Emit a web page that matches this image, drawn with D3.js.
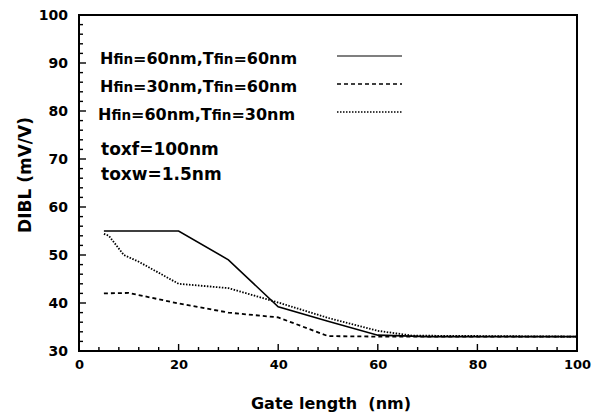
<!DOCTYPE html>
<html>
<head>
<meta charset="utf-8">
<script src="https://cdn.jsdelivr.net/npm/d3@7"></script>
<style>
  body { margin: 0; background: #fff; }
  svg { display: block; font-family: "DejaVu Sans", sans-serif; font-weight: bold; }
</style>
</head>
<body>
<svg id="chart"></svg>
<script>
// 数据
const solidX = [5, 20, 30, 40, 50, 60, 70, 100];
const solidY = [55, 55, 49, 39.2, 36.2, 33.3, 33, 33];
const dashX = [5, 10, 20, 30, 40, 50, 60, 100];
const dashY = [42, 42.1, 39.9, 38, 37, 33.1, 33, 33];
const dotX = [5, 6, 9, 12, 20, 30, 40, 50, 60, 67, 100];
const dotY = [54.4, 54, 50, 48.6, 44, 43.1, 40.1, 36.9, 34.2, 33.2, 33];
const seriesNames = [
  ['H', 'fin', '=60nm,T', 'fin', '=60nm'],
  ['H', 'fin', '=30nm,T', 'fin', '=60nm'],
  ['H', 'fin', '=60nm,T', 'fin', '=30nm']
];
const xTicks = [0, 20, 40, 60, 80, 100];
const yTicks = [30, 40, 50, 60, 70, 80, 90, 100];

const width = 592, height = 419;
const margin = { top: 15, right: 15, bottom: 68, left: 79 };
const innerWidth = width - margin.left - margin.right;
const innerHeight = height - margin.top - margin.bottom;
const font = 'DejaVu Sans, sans-serif';

const svg = d3.select('#chart')
  .attr('width', width)
  .attr('height', height)
  .append('g')
  .attr('transform', `translate(${margin.left},${margin.top})`);

const x = d3.scaleLinear().domain([0, 100]).range([0, innerWidth]);
const y = d3.scaleLinear().domain([30, 100]).range([innerHeight, 0]);

// 边框
svg.append('rect')
  .attr('width', innerWidth)
  .attr('height', innerHeight)
  .attr('fill', 'none')
  .attr('stroke', '#000')
  .attr('stroke-width', 2);

// 刻度线（向内）
const xMinor = d3.range(0, 101, 4);
const yMinor = d3.range(30, 101, 2);
svg.append('g').selectAll('line')
  .data(xMinor)
  .join('line')
  .attr('x1', d => x(d)).attr('x2', d => x(d))
  .attr('y1', innerHeight)
  .attr('y2', d => innerHeight - (d % 20 === 0 ? 7 : 4))
  .attr('stroke', '#000')
  .attr('stroke-width', 1.4);
svg.append('g').selectAll('line')
  .data(yMinor)
  .join('line')
  .attr('y1', d => y(d)).attr('y2', d => y(d))
  .attr('x1', 0)
  .attr('x2', d => (d % 10 === 0 ? 7 : 4))
  .attr('stroke', '#000')
  .attr('stroke-width', 1.4);

// 刻度标签
svg.append('g')
  .attr('transform', `translate(0,${innerHeight})`)
  .call(d3.axisBottom(x).tickValues(xTicks).tickSize(0).tickPadding(9))
  .call(g => g.select('.domain').remove())
  .call(g => g.selectAll('text').attr('font-size', 13).attr('font-weight', 'bold').attr('font-family', font));
svg.append('g')
  .call(d3.axisLeft(y).tickValues(yTicks).tickSize(0).tickPadding(11))
  .call(g => g.select('.domain').remove())
  .call(g => g.selectAll('text').attr('font-size', 14).attr('font-weight', 'bold').attr('font-family', font));

// 曲线
const line = d3.line().x(d => x(d[0])).y(d => y(d[1]));
const styles = [
  { xs: solidX, ys: solidY, dash: null, w: 1.6 },
  { xs: dashX, ys: dashY, dash: '4,3', w: 1.8 },
  { xs: dotX, ys: dotY, dash: '1.5,1.5', w: 1.8 }
];
styles.forEach(s => {
  svg.append('path')
    .datum(s.xs.map((v, i) => [v, s.ys[i]]))
    .attr('d', line)
    .attr('fill', 'none')
    .attr('stroke', '#000')
    .attr('stroke-width', s.w)
    .attr('stroke-dasharray', s.dash);
});

// 图例
styles.forEach((s, i) => {
  const yy = 41 + i * 28;
  const t = svg.append('text')
    .attr('x', 21 - (i === 2 ? 2 : 0))
    .attr('y', yy + 8)
    .attr('font-size', 16);
  seriesNames[i].forEach((part, j) => {
    t.append('tspan')
      .attr('font-size', j % 2 === 1 ? 13.5 : 16)
      .text(part);
  });
  svg.append('line')
    .attr('x1', 258).attr('x2', 323)
    .attr('y1', yy).attr('y2', yy)
    .attr('stroke', '#000')
    .attr('stroke-width', s.w - 0.4)
    .attr('stroke-dasharray', s.dash);
});

svg.append('text').attr('x', 22).attr('y', 140).attr('font-size', 17).text('toxf=100nm');
svg.append('text').attr('x', 22).attr('y', 165).attr('font-size', 17).text('toxw=1.5nm');

// 坐标轴标题
svg.append('text')
  .attr('x', 252)
  .attr('y', innerHeight + 58)
  .attr('text-anchor', 'middle')
  .attr('font-size', 16)
  .attr('xml:space', 'preserve')
  .text('Gate length  (nm)');

svg.append('text')
  .attr('transform', 'rotate(-90)')
  .attr('x', -160)
  .attr('y', -48)
  .attr('text-anchor', 'middle')
  .attr('font-size', 17)
  .text('DIBL (mV/V)');
</script>
</body>
</html>
